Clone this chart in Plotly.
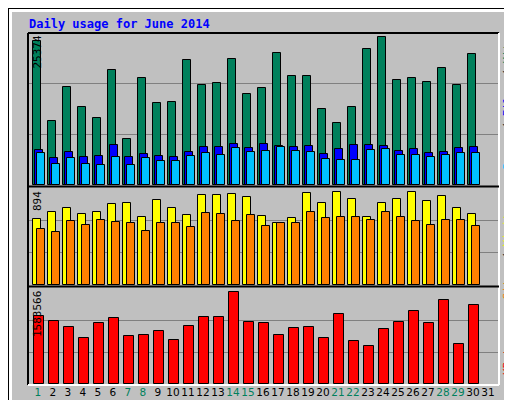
import plotly.graph_objects as go

days = list(range(1, 31))
day_labels = [str(d) for d in range(1, 32)]
weekend_days = [1, 7, 8, 14, 15, 21, 22, 28, 29]

hits = [23985, 10683, 16358, 13020, 11184, 19196, 7678, 17861, 13688, 13854,
        20866, 16692, 17026, 21033, 15190, 16192, 22034, 18195, 18195, 12686,
        10349, 13020, 22702, 24705, 17527, 17861, 17193, 19531, 16692, 21868]
files = [5842, 4507, 5508, 4674, 4841, 6677, 4674, 5175, 4841, 4674,
         5508, 6343, 6343, 6844, 6176, 6844, 6510, 6343, 6510, 5175,
         6009, 6677, 6677, 6510, 5675, 6009, 5341, 5508, 6176, 6343]
pages = [5341, 3505, 4507, 3505, 3338, 4674, 3338, 4507, 4006, 4006,
         4841, 5341, 5008, 6176, 5508, 5675, 6343, 5675, 5508, 4340,
         4173, 4173, 5842, 6009, 5008, 5008, 4674, 5008, 5341, 5341]
visits = [612, 677, 714, 658, 677, 742, 754, 630, 779, 714,
          649, 826, 826, 835, 807, 640, 575, 621, 845, 752,
          854, 789, 630, 752, 789, 854, 770, 817, 714, 658]
sites = [519, 491, 593, 556, 603, 584, 575, 500, 575, 575,
         537, 668, 658, 593, 649, 547, 575, 575, 677, 621,
         630, 630, 603, 677, 630, 593, 556, 603, 603, 547]
kbytes = [1128500, 1045150, 945130, 761770, 1011800, 1095150, 795110, 811780, 878460, 728440,
          961800, 1111820, 1111820, 1511880, 1028480, 1011800, 811780, 928460, 945130, 761770,
          1161830, 711770, 628420, 911790, 1028480, 1211840, 1011800, 1378530, 661760, 1295180]
max_hits, max_visits, max_kb = 25374, 894, 1583566

C_HITS, C_FILES, C_PAGES = "#00805c", "#0000ff", "#00c0ff"
C_VIS, C_SITES, C_KB = "#ffff00", "#ff8000", "#ff0000"

W, H = 512, 400
def py(p):  # pixel y -> paper y
    return 1 - p / H
def px(p):
    return p / W

fig = go.Figure()
def bar(y, color, off, width, ax):
    fig.add_trace(go.Bar(x=days, y=y, offset=off, width=width, marker_color=color,
                         marker_line=dict(color="black", width=1), xaxis="x",
                         yaxis=ax, showlegend=False, hoverinfo="skip"))

bar(hits, C_HITS, 0.0, 0.5, "y")
bar(files, C_FILES, 0.14, 0.5, "y")
bar(pages, C_PAGES, 0.27, 0.5, "y")
bar(visits, C_VIS, 0.0, 0.52, "y2")
bar(sites, C_SITES, 0.27, 0.5, "y2")
bar(kbytes, C_KB, 0.07, 0.67, "y3")

ticktext = [f"<span style='color:{C_HITS if int(d) in weekend_days else 'black'}'>{d}</span>"
            for d in day_labels]
x0 = 1 - 5 / 15
fig.update_layout(
    width=W, height=H, margin=dict(l=0, r=0, t=0, b=0, autoexpand=False),
    paper_bgcolor="#c0c0c0", plot_bgcolor="#c0c0c0", barmode="overlay", bargap=0,
    xaxis=dict(domain=[px(20), px(490)], range=[x0, x0 + 470 / 15], anchor="y3",
               tickvals=[d + 0.33 for d in range(1, 32)], ticktext=ticktext,
               showgrid=False, zeroline=False, ticks="", ticklen=0, tickangle=0,
               automargin=False, fixedrange=True,
               tickfont=dict(family="DejaVu Sans", size=10.5)),
)
def yax(lo, hi, mx):
    return dict(domain=[py(hi), py(lo)], range=[0, mx], tickvals=[mx / 3, 2 * mx / 3],
                showticklabels=False, gridcolor="#808080", gridwidth=1, zeroline=False,
                fixedrange=True, automargin=False, anchor="x")
fig.update_layout(yaxis=yax(25, 177, max_hits), yaxis2=yax(180, 277, max_visits),
                  yaxis3=yax(280, 376, max_kb))

shapes = []
def line(x0_, y0_, x1_, y1_, color, w=1):
    shapes.append(dict(type="line", xref="paper", yref="paper", x0=px(x0_), y0=py(y0_),
                       x1=px(x1_), y1=py(y1_), line=dict(color=color, width=w)))
def rect(x0_, y0_, x1_, y1_, color):
    shapes.append(dict(type="rect", xref="paper", yref="paper", x0=px(x0_), y0=py(y0_),
                       x1=px(x1_), y1=py(y1_), fillcolor=color, line=dict(width=0), layer="below"))
rect(0, 0, 512, 4, "white")
rect(0, 0, 4, 400, "white")
rect(506, 0, 512, 400, "#808080")
rect(0, 395, 512, 400, "#808080")
line(0, 0.5, 512, 0.5, "black")
line(0.5, 0, 0.5, 400, "black")
line(20, 25, 491, 25, "black", 2)
line(20, 25, 20, 377, "black", 2)
line(491, 25, 491, 377, "white", 2)
line(20, 377, 491, 377, "white", 2)
line(20, 178.5, 491, 178.5, "black", 2)
line(20, 278.5, 491, 278.5, "black", 2)
fig.update_layout(shapes=shapes)

def note(text, x, y, angle=0, xa="center", ya="top", size=11, color="black", bold=False):
    return dict(text=text, x=px(x), y=py(y), xref="paper", yref="paper", xanchor=xa,
                yanchor=ya, textangle=angle, showarrow=False,
                font=dict(family="DejaVu Sans Mono", size=size, color=color))
ann = [note("<b>Daily usage for June 2014</b>", 19, 7, xa="left", size=12, color="#0000ff")]
for val, top in [(max_hits, 26), (max_visits, 181), (max_kb, 281)]:
    ann.append(note(str(val), 29, top, angle=-90))
ann.append(note(f"<span style='color:{C_PAGES}'>Pages</span> / <span style='color:{C_FILES}'>Files</span> / <span style='color:{C_HITS}'>Hits</span>",
                499, 27, angle=-90))
ann.append(note(f"<span style='color:{C_SITES}'>Sites</span> / <span style='color:{C_VIS}'>Visits</span>",
                499, 197, angle=-90))
ann.append(note(f"<span style='color:{C_KB}'>KBytes</span>", 499, 325, angle=-90))
fig.update_layout(annotations=ann)
fig.write_html("out.html")
